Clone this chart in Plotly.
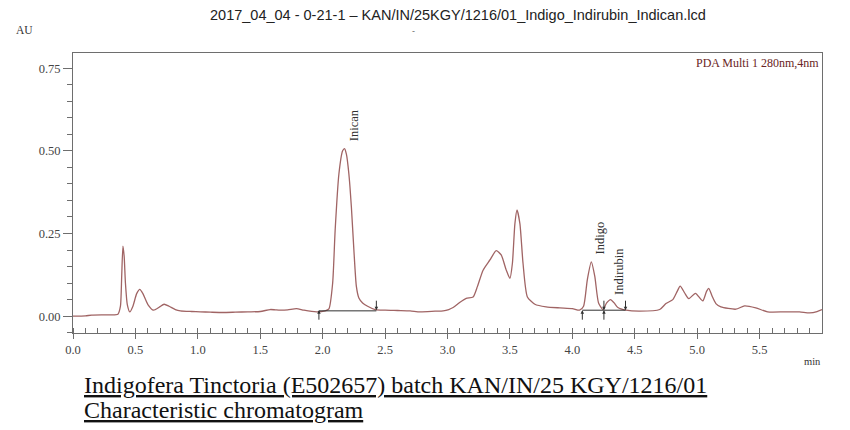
import plotly.graph_objects as go

# Chromatogram trace (retention time in min, absorbance in AU)
time_min = [0.00, 0.10, 0.15, 0.30, 0.36, 0.38, 0.39, 0.40, 0.41, 0.42, 0.435, 0.455,
            0.48, 0.51, 0.535, 0.56, 0.60, 0.645, 0.69, 0.73, 0.77, 0.82, 0.86, 0.95,
            1.02, 1.10, 1.20, 1.30, 1.40, 1.50, 1.58, 1.62, 1.66, 1.72, 1.79, 1.85,
            1.95, 2.02, 2.05, 2.08, 2.10, 2.13, 2.16, 2.175, 2.19, 2.21, 2.23, 2.25,
            2.27, 2.29, 2.32, 2.36, 2.42, 2.50, 2.60, 2.70, 2.78, 2.90, 2.965, 3.01,
            3.045, 3.10, 3.15, 3.205, 3.24, 3.285, 3.34, 3.39, 3.43, 3.47, 3.50, 3.52,
            3.54, 3.557, 3.58, 3.605, 3.64, 3.70, 3.79, 3.90, 4.00, 4.058, 4.09, 4.12,
            4.152, 4.18, 4.21, 4.245, 4.275, 4.306, 4.335, 4.365, 4.43, 4.54, 4.70,
            4.75, 4.805, 4.84, 4.864, 4.90, 4.933, 4.986, 5.045, 5.075, 5.093, 5.12,
            5.15, 5.19, 5.31, 5.38, 5.47, 5.565, 5.70, 5.82, 5.90, 5.96, 6.00]
absorbance = [0.000, 0.001, 0.003, 0.004, 0.006, 0.030, 0.120, 0.212, 0.180, 0.100, 0.035, 0.013,
              0.030, 0.068, 0.081, 0.068, 0.035, 0.018, 0.027, 0.036, 0.030, 0.020, 0.016, 0.014,
              0.013, 0.012, 0.011, 0.012, 0.013, 0.014, 0.020, 0.019, 0.018, 0.019, 0.023, 0.018,
              0.013, 0.016, 0.022, 0.100, 0.260, 0.430, 0.500, 0.507, 0.490, 0.430, 0.330, 0.200,
              0.090, 0.055, 0.040, 0.030, 0.020, 0.018, 0.017, 0.016, 0.013, 0.015, 0.016, 0.020,
              0.026, 0.042, 0.054, 0.058, 0.090, 0.139, 0.170, 0.198, 0.185, 0.140, 0.114, 0.160,
              0.280, 0.321, 0.280, 0.160, 0.058, 0.036, 0.028, 0.025, 0.023, 0.018, 0.030, 0.110,
              0.164, 0.120, 0.040, 0.020, 0.040, 0.050, 0.040, 0.026, 0.018, 0.015, 0.020,
              0.038, 0.050, 0.075, 0.091, 0.070, 0.053, 0.069, 0.046, 0.075, 0.084, 0.060,
              0.038, 0.028, 0.021, 0.031, 0.025, 0.013, 0.013, 0.013, 0.010, 0.014, 0.020]

# Integration baselines: (start, end, level)
base_start = [1.97, 4.08, 4.253]
base_end = [2.43, 4.253, 4.426]
base_level = [0.016, 0.018, 0.018]

# Peak labels
peak_names = ["Inican", "Indigo", "Indirubin"]
peak_label_x = [2.25, 4.224, 4.378]
peak_label_y = [0.523, 0.180, 0.058]

x_tick_vals = [0.0, 0.5, 1.0, 1.5, 2.0, 2.5, 3.0, 3.5, 4.0, 4.5, 5.0, 5.5]
y_tick_vals = [0.00, 0.25, 0.50, 0.75]

title_text = "2017_04_04 - 0-21-1 \u2013 KAN/IN/25KGY/1216/01_Indigo_Indirubin_Indican.lcd"
caption_1 = "Indigofera Tinctoria (E502657) batch KAN/IN/25 KGY/1216/01"
caption_2 = "Characteristic chromatogram"

LINE = "#a06464"
AXIS = "#6e6e6e"
SERIF = "Liberation Serif, Times New Roman, serif"
SANS = "Liberation Sans, Arial, sans-serif"

# page is drawn with an 8px body margin, so figure coords = reference coords - 8
W, H = 842, 422
L, R, T, B = 65, 28, 45, 97
pw, ph = W - L - R, H - T - B
OFF = 8


def px_to_paper(px, py):
    return (px - OFF - L) / pw, (H - B - (py - OFF)) / ph


fig = go.Figure()
fig.add_trace(go.Scatter(x=time_min, y=absorbance, mode="lines",
                         line=dict(color=LINE, width=1.3, shape="spline", smoothing=0.6),
                         hoverinfo="skip", showlegend=False))

for xs, xe, lv in zip(base_start, base_end, base_level):
    fig.add_trace(go.Scatter(x=[xs, xe], y=[lv, lv], mode="lines",
                             line=dict(color="#303030", width=1), showlegend=False,
                             hoverinfo="skip"))

# integration markers: up arrow at starts, down arrow at ends
arrow_pts = sorted(set(base_start + base_end))
for xp in arrow_pts:
    lv = 0.018
    if xp in base_start:
        fig.add_annotation(x=xp, y=lv, ax=0, ay=11, xref="x", yref="y", text="",
                           showarrow=True, arrowhead=2, arrowsize=0.7, arrowwidth=1,
                           arrowcolor="#303030")
    if xp in base_end:
        fig.add_annotation(x=xp, y=lv, ax=0, ay=-11, xref="x", yref="y", text="",
                           showarrow=True, arrowhead=2, arrowsize=0.7, arrowwidth=1,
                           arrowcolor="#303030")

for name, lx, ly in zip(peak_names, peak_label_x, peak_label_y):
    fig.add_annotation(x=lx, y=ly, xref="x", yref="y", text=name, textangle=-90,
                       showarrow=False, xanchor="center", yanchor="bottom",
                       font=dict(family=SERIF, size=12.5, color="#303030"))

fig.add_annotation(x=1, y=1, xref="paper", yref="paper", text="PDA Multi 1 280nm,4nm",
                   showarrow=False, xanchor="right", yanchor="top", xshift=-1, yshift=-1,
                   font=dict(family=SERIF, size=12, color="#6a2424"))

# page texts
tx, ty = px_to_paper(458, 15)
fig.add_annotation(x=tx, y=ty, xref="paper", yref="paper", text=title_text,
                   showarrow=False, xanchor="center", yanchor="middle",
                   font=dict(family=SANS, size=14.5, color="#222"))
dx, dy = px_to_paper(413, 31)
fig.add_annotation(x=dx, y=dy, xref="paper", yref="paper", text="-",
                   showarrow=False, xanchor="center", yanchor="middle",
                   font=dict(family=SANS, size=9, color="#666"))
ax_, ay_ = px_to_paper(25, 30)
fig.add_annotation(x=ax_, y=ay_, xref="paper", yref="paper", text="AU", showarrow=False,
                   xanchor="center", yanchor="middle", font=dict(family=SERIF, size=11.5, color="#333"))
mx, my = px_to_paper(812, 361)
fig.add_annotation(x=mx, y=my, xref="paper", yref="paper", text="min", showarrow=False,
                   xanchor="center", yanchor="middle", font=dict(family=SERIF, size=10.5, color="#333"))
c1x, c1y = px_to_paper(82, 385)
fig.add_annotation(x=c1x, y=c1y, xref="paper", yref="paper", text="<u>" + caption_1 + "</u>",
                   showarrow=False, xanchor="left", yanchor="middle",
                   font=dict(family=SERIF, size=24, color="#111"))
c2x, c2y = px_to_paper(82, 410)
fig.add_annotation(x=c2x, y=c2y, xref="paper", yref="paper", text="<u>" + caption_2 + "</u>",
                   showarrow=False, xanchor="left", yanchor="middle",
                   font=dict(family=SERIF, size=24, color="#111"))

fig.update_layout(
    width=W, height=H, margin=dict(l=L, r=R, t=T, b=B),
    plot_bgcolor="white", paper_bgcolor="white", showlegend=False,
    xaxis=dict(range=[0, 6.0], tickvals=x_tick_vals, tickformat=".1f",
               showline=True, linecolor=AXIS, linewidth=1, mirror=True,
               ticks="outside", ticklen=5, tickcolor=AXIS, showgrid=False, zeroline=False,
               tickfont=dict(family=SERIF, size=12.5, color="#444"),
               minor=dict(dtick=0.1, tick0=0, ticks="inside", ticklen=5, tickcolor=AXIS)),
    yaxis=dict(range=[-0.051, 0.796], tickvals=y_tick_vals, tickformat=".2f",
               showline=True, linecolor=AXIS, linewidth=1, mirror=True,
               ticks="outside", ticklen=9, tickcolor=AXIS, showgrid=False, zeroline=False,
               tickfont=dict(family=SERIF, size=12.5, color="#444"),
               minor=dict(dtick=0.05, tick0=0, ticks="outside", ticklen=5, tickcolor=AXIS)),
)

fig.write_html("out.html")
